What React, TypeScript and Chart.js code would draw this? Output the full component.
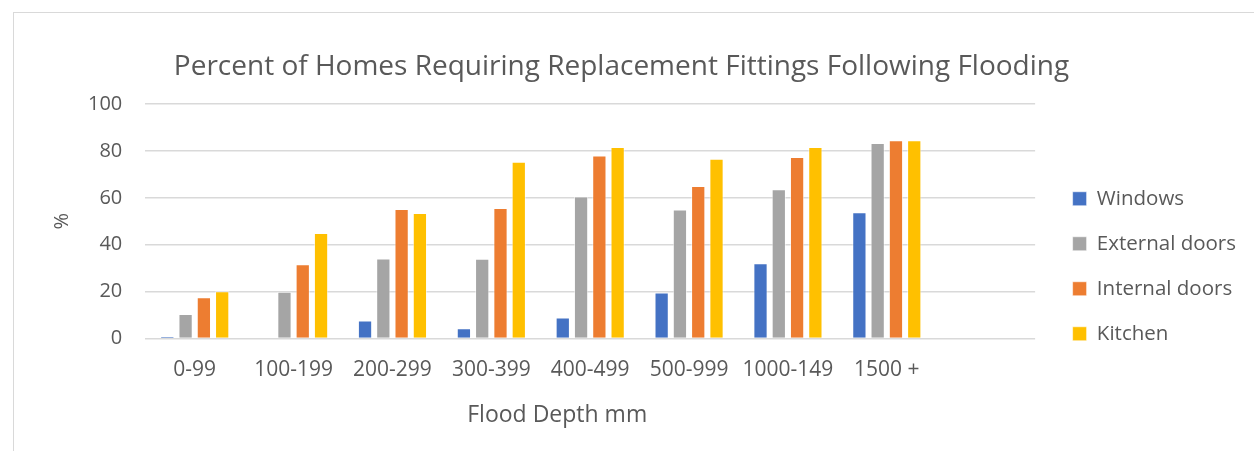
import React, { useEffect, useRef } from "react";
import { Chart, registerables } from "chart.js";

Chart.register(...registerables);

const categories = ["0-99", "100-199", "200-299", "300-399", "400-499", "500-999", "1000-149", "1500 +", ""];
const windows = [1.0, 0, 7.7, 4.4, 9.0, 19.6, 32.1, 53.8];
const externalDoors = [10.4, 19.9, 34.1, 34.0, 60.6, 55.0, 63.6, 83.4];
const internalDoors = [17.6, 31.7, 55.2, 55.6, 78.0, 65.0, 77.4, 84.5];
const kitchen = [20.2, 45.0, 53.5, 75.4, 81.7, 76.7, 81.7, 84.5];
const yTicks = [0, 20, 40, 60, 80, 100];

const TEXT = "#595959";
const FONT = "'Open Sans', 'Noto Sans', sans-serif";

const layoutTweaks = {
  id: "layoutTweaks",
  afterLayout(chart: any) {
    const lg = chart.legend;
    if (lg) {
      const dx = 13;
      const dy = 60;
      lg.left += dx;
      lg.right += dx;
      lg.top += dy;
      lg.bottom += dy;
    }
    const sx = chart.scales && chart.scales.x;
    if (sx && typeof sx.drawTitle === "function" && !sx.__titleShifted) {
      const orig = sx.drawTitle;
      sx.drawTitle = function (...args: any[]) {
        const l = this.left;
        const r = this.right;
        this.left = l - 33;
        this.right = r - 33;
        try {
          return orig.apply(this, args);
        } finally {
          this.left = l;
          this.right = r;
        }
      };
      sx.__titleShifted = true;
    }
  },
};

export default function App() {
  const ref = useRef<HTMLCanvasElement | null>(null);

  useEffect(() => {
    if (!ref.current) return;
    const mk = (label: string, data: number[], color: string) => ({
      label,
      data,
      backgroundColor: color,
      borderColor: "rgba(255,255,255,0.55)",
      borderWidth: 1,
      categoryPercentage: 0.74,
      barPercentage: 0.78,
    });
    const chart = new Chart(ref.current, {
      type: "bar",
      data: {
        labels: categories,
        datasets: [
          mk("Windows", windows, "#4472C4"),
          mk("External doors", externalDoors, "#A5A5A5"),
          mk("Internal doors", internalDoors, "#ED7D31"),
          mk("Kitchen", kitchen, "#FFC000"),
        ],
      },
      options: {
        responsive: false,
        animation: false,
        devicePixelRatio: 1,
        layout: { padding: { left: 10, right: 21, top: 10, bottom: 10 } },
        plugins: {
          title: {
            display: true,
            text: "Percent of Homes Requiring Replacement Fittings Following Flooding",
            color: TEXT,
            font: { family: FONT, size: 28, weight: "normal" },
            padding: { top: 40, bottom: 20.4 },
          },
          legend: {
            display: true,
            position: "right",
            align: "start",
            fullSize: false,
            labels: {
              color: TEXT,
              font: { family: FONT, size: 20.5 },
              boxWidth: 14,
              boxHeight: 14,
              padding: 24.5,
            },
          },
          tooltip: { enabled: false },
        },
        scales: {
          x: {
            grid: { display: false, drawTicks: true, tickLength: 8 },
            border: { display: false },
            ticks: {
              color: TEXT,
              font: { family: FONT, size: 21 },
              padding: 10.9,
              maxRotation: 0,
              autoSkip: false,
            },
            title: {
              display: true,
              text: "Flood Depth mm",
              color: TEXT,
              font: { family: FONT, size: 23 },
              padding: { top: 7.7, bottom: 12.2 },
            },
          },
          y: {
            min: 0,
            max: 100,
            afterBuildTicks: (axis: any) => {
              axis.ticks = yTicks.map((v) => ({ value: v }));
            },
            grid: {
              color: "#d9d9d9",
              lineWidth: 1.5,
              drawTicks: true,
              tickLength: 18,
              tickColor: "rgba(0,0,0,0)",
            },
            border: { display: false },
            ticks: {
              color: TEXT,
              font: { family: FONT, size: 20 },
              padding: 5,
            },
            title: {
              display: true,
              text: "%",
              color: TEXT,
              font: { family: FONT, size: 20 },
              padding: { top: 40, bottom: 9 },
            },
          },
        },
      },
      plugins: [layoutTweaks],
    });
    return () => chart.destroy();
  }, []);

  return (
    <div
      style={{
        position: "fixed",
        left: 0,
        top: 0,
        width: 1254,
        height: 451,
        overflow: "hidden",
        background: "#ffffff",
      }}
    >
      <div
        style={{
          position: "absolute",
          left: 13,
          top: 12,
          width: 1280,
          height: 480,
          border: "1px solid #d9d9d9",
        }}
      />
      <canvas
        ref={ref}
        width={1254}
        height={451}
        style={{ position: "absolute", left: 0, top: 0, width: 1254, height: 451 }}
      />
    </div>
  );
}
